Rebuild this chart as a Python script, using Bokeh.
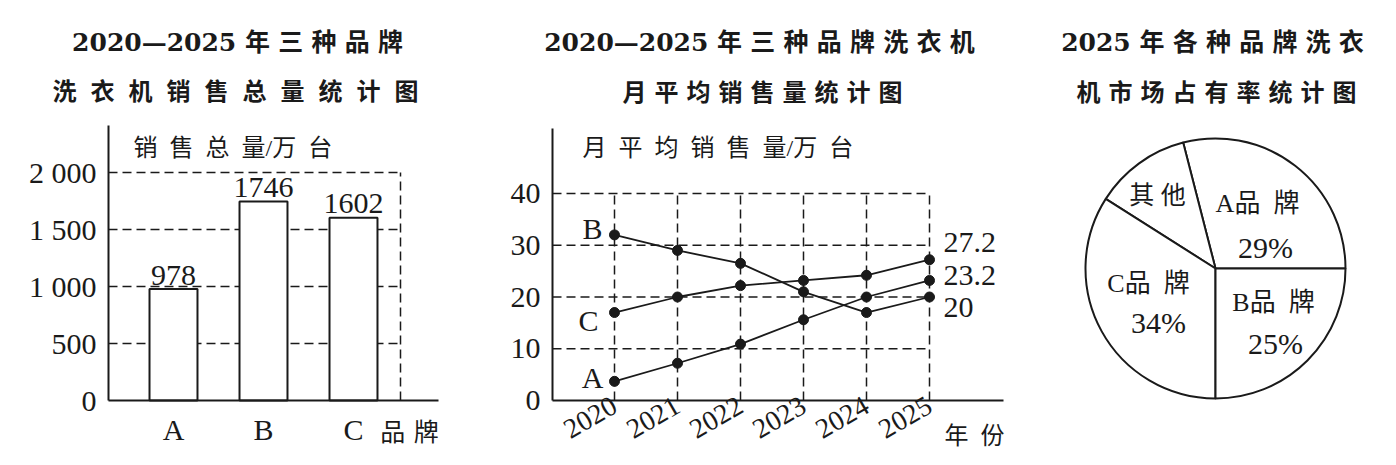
import math
from bokeh.plotting import figure
from bokeh.layouts import row
from bokeh.models import Range1d, FixedTicker, Label
from bokeh.core.properties import value
from bokeh.embed import file_html
from bokeh.resources import INLINE

# ---------------- data ----------------
brands = ["A", "B", "C"]
total_sales = [978, 1746, 1602]
bar_ticks = [0, 500, 1000, 1500, 2000]
bar_tick_labels = ["0", "500", "1 000", "1 500", "2 000"]

years = [2020, 2021, 2022, 2023, 2024, 2025]
monthly_A = [3.7, 7.2, 10.9, 15.6, 20.0, 23.2]
monthly_B = [32.0, 29.0, 26.5, 21.0, 17.0, 20.0]
monthly_C = [17.0, 20.0, 22.2, 23.2, 24.2, 27.2]
line_ticks = [0, 10, 20, 30, 40]

pie_labels = ["A品牌", "B品牌", "C品牌", "其他"]
pie_shares = [29, 25, 34, 12]
pie_order = ["A品牌", "其他", "C品牌", "B品牌"]   # counter-clockwise from 0 deg

# ---------------- style ----------------
INK = "#1a1a1a"
SERIF = "Liberation Serif"
MIX = "'Liberation Serif', 'Noto Sans CJK SC'"
TMIX = "'DejaVu Serif', 'Noto Sans CJK SC'"
EN, THIRD, QUARTER = "\u2002", "\u2004", "\u2005"
DASH = "9 5"
H = 449
W1, W2, W3 = 490, 540, 350


def spaced(s, sep=EN):
    return sep.join(s)


def base_fig(w, xr, yr):
    p = figure(width=w, height=H, x_range=xr, y_range=yr, output_backend="svg",
               toolbar_location=None, tools="",
               min_border_left=0, min_border_right=0, min_border_top=0, min_border_bottom=0)
    p.grid.visible = False
    p.outline_line_color = None
    p.background_fill_color = "white"
    p.border_fill_color = "white"
    return p


def style_axis(ax, size="30px", standoff=12):
    ax.axis_line_color = INK
    ax.axis_line_width = 2
    ax.major_tick_line_color = None
    ax.minor_tick_line_color = None
    ax.major_tick_out = 0
    ax.major_tick_in = 0
    ax.minor_tick_out = 0
    ax.minor_tick_in = 0
    ax.major_label_text_font = SERIF
    ax.major_label_text_font_size = size
    ax.major_label_text_color = INK
    ax.major_label_standoff = standoff


def lab(p, x, y, text, size, font=MIX, style="normal", align="center", baseline="middle"):
    p.add_layout(Label(x=x, y=y, text=text, text_font=font, text_font_size=f"{size}px",
                       text_font_style=style, text_align=align, text_baseline=baseline,
                       text_color=INK))


# ---------------- chart 1: bars ----------------
def d1x(px):
    return 1 + (px - 173) / 90.0


def d1y(py):
    return (400 - py) / 0.114


bar_x = list(range(1, len(brands) + 1))
xa1, xe1, xb = d1x(108), d1x(438), d1x(400)
ye1 = d1y(125)
p1 = base_fig(W1, Range1d(d1x(0), d1x(W1)), Range1d(d1y(H), d1y(0)))
for ax in (p1.xaxis[0], p1.yaxis[0]):
    style_axis(ax)
p1.xaxis.fixed_location = 0
p1.xaxis.bounds = (xa1, xe1)
p1.yaxis.fixed_location = xa1
p1.yaxis.bounds = (0, ye1)
p1.yaxis.ticker = FixedTicker(ticks=bar_ticks)
p1.yaxis.major_label_overrides = dict(zip(bar_ticks, bar_tick_labels))
p1.xaxis.ticker = FixedTicker(ticks=bar_x)
p1.xaxis.major_label_overrides = dict(zip(bar_x, brands))

g1 = bar_ticks[1:]
p1.segment(x0=[xa1] * len(g1), y0=g1, x1=[xb] * len(g1), y1=g1,
           line_dash=DASH, line_width=1.5, line_color=INK)
p1.segment(x0=[xb], y0=[0], x1=[xb], y1=[bar_ticks[-1]],
           line_dash=DASH, line_width=1.5, line_color=INK)
p1.vbar(x=bar_x, top=total_sales, width=0.533, bottom=0,
        fill_color="white", line_color=INK, line_width=2)
p1.text(x=bar_x, y=total_sales, text=[str(v) for v in total_sales],
        text_font=value(SERIF), text_font_size="30px", text_align="center",
        text_baseline="middle", y_offset=-14, text_color=INK)

lab(p1, d1x(133), d1y(147), spaced("销售总量") + "/" + spaced("万台"), 24, align="left")
lab(p1, d1x(409), d1y(432), spaced("品牌", THIRD), 25)
lab(p1, d1x(237), d1y(42), "2020—2025 " + spaced("年三种品牌", THIRD), 25, font=TMIX, style="bold")
lab(p1, d1x(235), d1y(91), spaced("洗衣机销售总量统计图", THIRD + " "), 24, style="bold")

# ---------------- chart 2: lines ----------------
OX2 = W1


def d2x(px):
    return 2020 + (px - 614) / 63.0


def d2y(py):
    return (400 - py) / 5.175


xa2, xe2 = d2x(552), d2x(1003)
ye2 = d2y(128)
p2 = base_fig(W2, Range1d(d2x(OX2), d2x(OX2 + W2)), Range1d(d2y(H), d2y(0)))
style_axis(p2.xaxis[0], size="28px", standoff=3)
style_axis(p2.yaxis[0])
p2.xaxis.fixed_location = 0
p2.xaxis.bounds = (xa2, xe2)
p2.yaxis.fixed_location = xa2
p2.yaxis.bounds = (0, ye2)
p2.xaxis.ticker = FixedTicker(ticks=years)
p2.xaxis.major_label_orientation = math.pi / 6
p2.yaxis.ticker = FixedTicker(ticks=line_ticks)

g2 = line_ticks[1:]
p2.segment(x0=[xa2] * len(g2), y0=g2, x1=[years[-1]] * len(g2), y1=g2,
           line_dash=DASH, line_width=1.5, line_color=INK)
p2.segment(x0=years, y0=[0] * len(years), x1=years, y1=[line_ticks[-1]] * len(years),
           line_dash=DASH, line_width=1.5, line_color=INK)
for series in (monthly_A, monthly_B, monthly_C):
    p2.line(years, series, line_width=1.8, line_color=INK)
    p2.scatter(years, series, size=10, fill_color=INK, line_color=INK)

# series names at the left
p2.text(x=[d2x(592), d2x(588), d2x(592)], y=[d2y(228), d2y(320), d2y(377)], text=["B", "C", "A"],
        text_font=value(SERIF), text_font_size="30px", text_align="center",
        text_baseline="middle", text_color=INK)
# end values at the right
p2.text(x=[d2x(943)] * 3, y=[d2y(242), d2y(275), d2y(307)],
        text=[f"{monthly_C[-1]:g}", f"{monthly_A[-1]:g}", f"{monthly_B[-1]:g}"],
        text_font=value(SERIF), text_font_size="30px", text_align="left",
        text_baseline="middle", text_color=INK)

lab(p2, d2x(582), d2y(147), spaced("月平均销售量") + "/" + spaced("万台"), 24, align="left")
lab(p2, d2x(974), d2y(435), spaced("年份"), 24)
lab(p2, d2x(759), d2y(42), "2020—2025 " + spaced("年三种品牌洗衣机", THIRD), 25, font=TMIX, style="bold")
lab(p2, d2x(762), d2y(92), spaced("月平均销售量统计图", THIRD), 24, style="bold")

# ---------------- chart 3: pie ----------------
OX3 = W1 + W2
CX, CY = 1215, 268
p3 = base_fig(W3, Range1d(OX3 - CX, OX3 + W3 - CX), Range1d(CY - H, CY))
p3.axis.visible = False

starts, ends = [], []
acc = 0.0
for name in pie_order:
    share = pie_shares[pie_labels.index(name)]
    starts.append(acc)
    acc += share / 100 * 2 * math.pi
    ends.append(acc)
p3.wedge(x=[0] * len(pie_order), y=[0] * len(pie_order), radius=130,
         start_angle=starts, end_angle=ends,
         fill_color="white", line_color=INK, line_width=2)

name_pos = {"A品牌": (42, 65), "B品牌": (58, -34), "C品牌": (-67, -15), "其他": (-58, 73)}
pct_pos = {"A品牌": (50, 21), "B品牌": (60, -75), "C品牌": (-57, -54)}

named = [n for n in pie_labels if n != "其他"]
p3.text(x=[name_pos[n][0] for n in named], y=[name_pos[n][1] for n in named],
        text=[n[0] + spaced(n[1:]) for n in named],
        text_font=value(MIX), text_font_size="26px", text_align="center",
        text_baseline="middle", text_color=INK)
p3.text(x=[name_pos["其他"][0]], y=[name_pos["其他"][1]], text=[spaced("其他", QUARTER)],
        text_font=value(MIX), text_font_size="25px", text_align="center",
        text_baseline="middle", text_color=INK)
p3.text(x=[pct_pos[n][0] for n in named], y=[pct_pos[n][1] for n in named],
        text=[f"{pie_shares[pie_labels.index(n)]}%" for n in named],
        text_font=value(SERIF), text_font_size="30px", text_align="center",
        text_baseline="middle", text_color=INK)

lab(p3, 1212 - CX, CY - 42, "2025 " + spaced("年各种品牌洗衣", THIRD), 25, font=TMIX, style="bold")
lab(p3, 1216 - CX, CY - 92, spaced("机市场占有率统计图", THIRD), 24, style="bold")

layout = row(p1, p2, p3)
open("out.html", "w").write(file_html(layout, INLINE, title="洗衣机销售统计图"))
